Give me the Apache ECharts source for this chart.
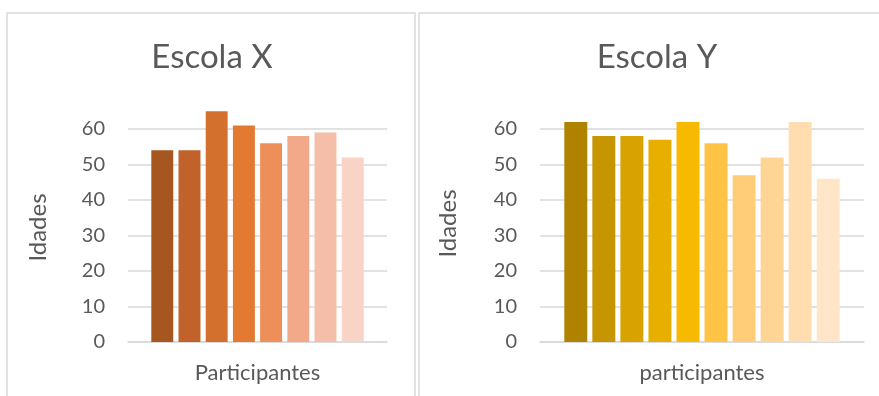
<!DOCTYPE html>
<html>
<head>
<meta charset="utf-8">
<script src="https://cdn.jsdelivr.net/npm/echarts@6/dist/echarts.min.js"></script>
<style>
  html, body { margin: 0; padding: 0; background: #fff; }
  #chart { width: 879px; height: 396px; }
</style>
</head>
<body>
<div id="chart"></div>
<script>
// dados
const participantesX = ['P1', 'P2', 'P3', 'P4', 'P5', 'P6', 'P7', 'P8'];
const idadesX = [54, 54, 65, 61, 56, 58, 59, 52];
const participantesY = ['P1', 'P2', 'P3', 'P4', 'P5', 'P6', 'P7', 'P8', 'P9', 'P10'];
const idadesY = [62, 58, 58, 57, 62, 56, 47, 52, 62, 46];
const categoria = [''];

const coresX = ['#A6561F', '#C0622A', '#D4702E', '#E47A32', '#EE8F5A', '#F2A98A', '#F5BEA9', '#F8D3C6'];
const coresY = ['#AF8300', '#C69500', '#D8A200', '#E8AF00', '#F7BA00', '#FFC445', '#FFCD78', '#FFD596', '#FFDDAE', '#FFE6C8'];

const FONT = 'Lato';
const TXT = '#595959';
const GRID = '#d9d9d9';

const chart = echarts.init(document.getElementById('chart'));

const makeSeries = (nomes, valores, cores, idx, gap, catGap) =>
  nomes.map((n, i) => ({
    type: 'bar',
    name: n,
    xAxisIndex: idx,
    yAxisIndex: idx,
    data: [valores[i]],
    itemStyle: { color: cores[i] },
    barGap: gap,
    barCategoryGap: catGap,
    clip: false,
    silent: true
  }));

const xAxisCfg = (idx, nome) => ({
  type: 'category',
  gridIndex: idx,
  data: categoria,
  axisLine: { show: true, lineStyle: { color: GRID, width: 1.5 } },
  axisTick: { show: false },
  axisLabel: { show: false },
  name: nome,
  nameLocation: 'middle',
  nameGap: 20,
  nameTextStyle: { color: TXT, fontFamily: FONT, fontSize: 22 }
});

const yAxisCfg = (idx, gap, pad) => ({
  type: 'value',
  gridIndex: idx,
  min: 0,
  max: 60,
  interval: 10,
  axisLine: { show: false },
  axisTick: { show: false },
  axisLabel: { color: TXT, fontFamily: FONT, fontSize: 20, margin: 23 },
  splitLine: { lineStyle: { color: GRID, width: 1.5 } },
  name: 'Idades',
  nameLocation: 'middle',
  nameRotate: 90,
  nameGap: gap,
  nameTextStyle: { color: TXT, fontFamily: FONT, fontSize: 24, padding: [0, 0, 0, pad] }
});

const option = {
  animation: false,
  title: [
    {
      text: 'Escola X', left: 212, top: 41, textAlign: 'center', padding: 0,
      textStyle: { color: TXT, fontFamily: FONT, fontSize: 33, fontWeight: 'normal' }
    },
    {
      text: 'Escola Y', left: 657, top: 41, textAlign: 'center', padding: 0,
      textStyle: { color: TXT, fontFamily: FONT, fontSize: 33, fontWeight: 'normal' }
    }
  ],
  graphic: [
    { type: 'rect', shape: { x: 7, y: 13, width: 408, height: 420 }, style: { fill: 'none', stroke: GRID, lineWidth: 1.5 }, silent: true },
    { type: 'rect', shape: { x: 419, y: 13, width: 480, height: 420 }, style: { fill: 'none', stroke: GRID, lineWidth: 1.5 }, silent: true }
  ],
  grid: [
    { left: 128, top: 129, width: 259, height: 213 },
    { left: 540, top: 129, width: 324, height: 213 }
  ],
  xAxis: [xAxisCfg(0, 'Participantes'), xAxisCfg(1, 'participantes')],
  yAxis: [yAxisCfg(0, 78, 16), yAxisCfg(1, 80, 24)],
  series: [
    ...makeSeries(participantesX, idadesX, coresX, 0, '24%', '18%'),
    ...makeSeries(participantesY, idadesY, coresY, 1, '22%', '15%')
  ]
};

chart.setOption(option);
</script>
</body>
</html>
